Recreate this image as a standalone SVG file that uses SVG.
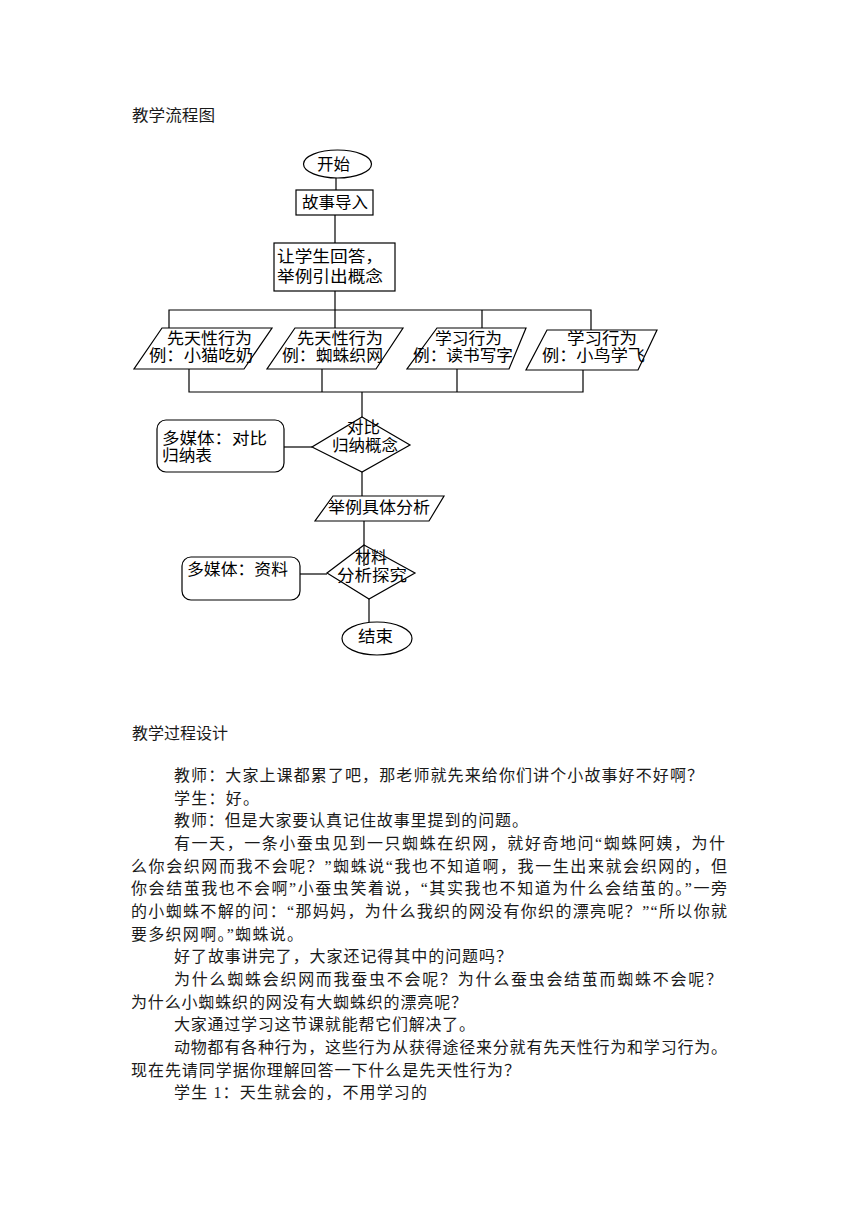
<svg xmlns="http://www.w3.org/2000/svg" width="860" height="1216" viewBox="0 0 860 1216">
<style>
.bg{fill:#ffffff}
.shape{fill:#ffffff;stroke:#000000;stroke-width:1.2}
.line{fill:none;stroke:#000000;stroke-width:1.2}
.ft{font-family:"Noto Sans CJK SC","Noto Sans CJK JP",sans-serif;font-size:16px;fill:#000000}
.bt{font-family:"Liberation Serif","Noto Sans CJK SC",serif;font-size:16px;fill:#1a1a1a}
</style>
<rect class="bg" x="0" y="0" width="860" height="1216"/>
<text class="bt" x="132" y="121" textLength="83" lengthAdjust="spacingAndGlyphs">教学流程图</text>
<g id="connectors">
<line class="line" x1="336" y1="178" x2="336" y2="190"/>
<line class="line" x1="335" y1="215" x2="335" y2="243"/>
<line class="line" x1="335" y1="291" x2="335" y2="310"/>
<polyline class="line" points="169,328 169,310 591,310 591,330"/>
<line class="line" x1="335" y1="310" x2="335" y2="328"/>
<line class="line" x1="482" y1="310" x2="482" y2="328"/>
<polyline class="line" points="189,369 189,392 583,392 583,370"/>
<line class="line" x1="322" y1="369" x2="322" y2="392"/>
<line class="line" x1="457" y1="369" x2="457" y2="392"/>
<line class="line" x1="362" y1="392" x2="362" y2="417"/>
<line class="line" x1="284" y1="447" x2="312" y2="447"/>
<line class="line" x1="362" y1="472" x2="362" y2="496"/>
<line class="line" x1="364" y1="521" x2="364" y2="566"/>
<line class="line" x1="300" y1="574" x2="327" y2="574"/>
<line class="line" x1="369" y1="599" x2="369" y2="622"/>
</g>
<g id="start">
<ellipse class="shape" cx="337.5" cy="164" rx="34" ry="14"/>
<text class="ft" x="317" y="170" textLength="33" lengthAdjust="spacingAndGlyphs">开始</text>
</g>
<g id="story">
<rect class="shape" x="296" y="190" width="77" height="25"/>
<text class="ft" x="302" y="208" textLength="66" lengthAdjust="spacingAndGlyphs">故事导入</text>
</g>
<g id="answer">
<rect class="shape" x="274" y="243" width="121" height="48"/>
<text class="ft" x="277" y="262" textLength="106" lengthAdjust="spacingAndGlyphs">让学生回答，</text>
<text class="ft" x="277" y="282" textLength="106" lengthAdjust="spacingAndGlyphs">举例引出概念</text>
</g>
<g id="p1">
<polygon class="shape" points="162,328 272,328 244,369 134,369"/>
<text class="ft" x="167" y="343.5" textLength="85" lengthAdjust="spacingAndGlyphs">先天性行为</text>
<text class="ft" x="149" y="361" textLength="104" lengthAdjust="spacingAndGlyphs">例：小猫吃奶</text>
</g>
<g id="p2">
<polygon class="shape" points="295,328 403,328 376,369 267,369"/>
<text class="ft" x="297" y="343.5" textLength="86" lengthAdjust="spacingAndGlyphs">先天性行为</text>
<text class="ft" x="282" y="361" textLength="101" lengthAdjust="spacingAndGlyphs">例：蜘蛛织网</text>
</g>
<g id="p3">
<polygon class="shape" points="437,328 526,328 509,369 407,369"/>
<text class="ft" x="435" y="343.5" textLength="67" lengthAdjust="spacingAndGlyphs">学习行为</text>
<text class="ft" x="413" y="361" textLength="100" lengthAdjust="spacingAndGlyphs">例：读书写字</text>
</g>
<g id="p4">
<polygon class="shape" points="547,330 657,330 638,370 526,370"/>
<text class="ft" x="567" y="344" textLength="70" lengthAdjust="spacingAndGlyphs">学习行为</text>
<text class="ft" x="542" y="361" textLength="103" lengthAdjust="spacingAndGlyphs">例：小鸟学飞</text>
</g>
<g id="compare">
<polygon class="shape" points="362,417 410,445 362,472 312,447"/>
<text class="ft" x="347" y="433" textLength="33" lengthAdjust="spacingAndGlyphs">对比</text>
<text class="ft" x="332" y="451" textLength="66" lengthAdjust="spacingAndGlyphs">归纳概念</text>
</g>
<g id="media1">
<rect class="shape" x="157" y="420" width="127" height="52" rx="9" ry="9"/>
<text class="ft" x="162" y="444" textLength="105" lengthAdjust="spacingAndGlyphs">多媒体：对比</text>
<text class="ft" x="162" y="461" textLength="50" lengthAdjust="spacingAndGlyphs">归纳表</text>
</g>
<g id="example">
<polygon class="shape" points="333,496 444,496 429,521 315,521"/>
<text class="ft" x="328" y="513" textLength="102" lengthAdjust="spacingAndGlyphs">举例具体分析</text>
</g>
<g id="analyze">
<polygon class="shape" points="364,545 415,573 369,599 327,573"/>
<line class="line" x1="364" y1="545" x2="364" y2="566"/>
<text class="ft" x="355" y="563" textLength="32" lengthAdjust="spacingAndGlyphs">材料</text>
<text class="ft" x="337" y="581" textLength="70" lengthAdjust="spacingAndGlyphs">分析探究</text>
</g>
<g id="media2">
<rect class="shape" x="182" y="557" width="118" height="43" rx="9" ry="9"/>
<text class="ft" x="187" y="575" textLength="101" lengthAdjust="spacingAndGlyphs">多媒体：资料</text>
</g>
<g id="end">
<ellipse class="shape" cx="377" cy="638.5" rx="35" ry="16.5"/>
<text class="ft" x="358" y="642" textLength="35" lengthAdjust="spacingAndGlyphs">结束</text>
</g>
<text class="bt" x="132" y="739" textLength="96" lengthAdjust="spacingAndGlyphs">教学过程设计</text>
<g id="body">
<text class="bt" x="174" y="781" textLength="529" lengthAdjust="spacing">教师：大家上课都累了吧，那老师就先来给你们讲个小故事好不好啊？</text>
<text class="bt" x="174" y="803.6" textLength="85" lengthAdjust="spacing">学生：好。</text>
<text class="bt" x="174" y="826.3" textLength="354" lengthAdjust="spacing">教师：但是大家要认真记住故事里提到的问题。</text>
<text class="bt" x="174" y="849" textLength="551" lengthAdjust="spacing">有一天，一条小蚕虫见到一只蜘蛛在织网，就好奇地问“蜘蛛阿姨，为什</text>
<text class="bt" x="131" y="871.6" textLength="596" lengthAdjust="spacing">么你会织网而我不会呢？”蜘蛛说“我也不知道啊，我一生出来就会织网的，但</text>
<text class="bt" x="131" y="894.3" textLength="596" lengthAdjust="spacing">你会结茧我也不会啊”小蚕虫笑着说，“其实我也不知道为什么会结茧的。”一旁</text>
<text class="bt" x="131" y="916.9" textLength="596" lengthAdjust="spacing">的小蜘蛛不解的问：“那妈妈，为什么我织的网没有你织的漂亮呢？”“所以你就</text>
<text class="bt" x="131" y="939.5" textLength="172" lengthAdjust="spacing">要多织网啊。”蜘蛛说。</text>
<text class="bt" x="174" y="962.2" textLength="338" lengthAdjust="spacing">好了故事讲完了，大家还记得其中的问题吗？</text>
<text class="bt" x="174" y="984.9" textLength="548" lengthAdjust="spacing">为什么蜘蛛会织网而我蚕虫不会呢？为什么蚕虫会结茧而蜘蛛不会呢？</text>
<text class="bt" x="131" y="1007.5" textLength="336" lengthAdjust="spacing">为什么小蜘蛛织的网没有大蜘蛛织的漂亮呢？</text>
<text class="bt" x="174" y="1030.2" textLength="301" lengthAdjust="spacing">大家通过学习这节课就能帮它们解决了。</text>
<text class="bt" x="174" y="1052.8" textLength="553" lengthAdjust="spacing">动物都有各种行为，这些行为从获得途径来分就有先天性行为和学习行为。</text>
<text class="bt" x="131" y="1075.5" textLength="389" lengthAdjust="spacing">现在先请同学据你理解回答一下什么是先天性行为？</text>
<text class="bt" x="174" y="1098.1" textLength="253" lengthAdjust="spacing">学生 1：天生就会的，不用学习的</text>
</g>
</svg>
